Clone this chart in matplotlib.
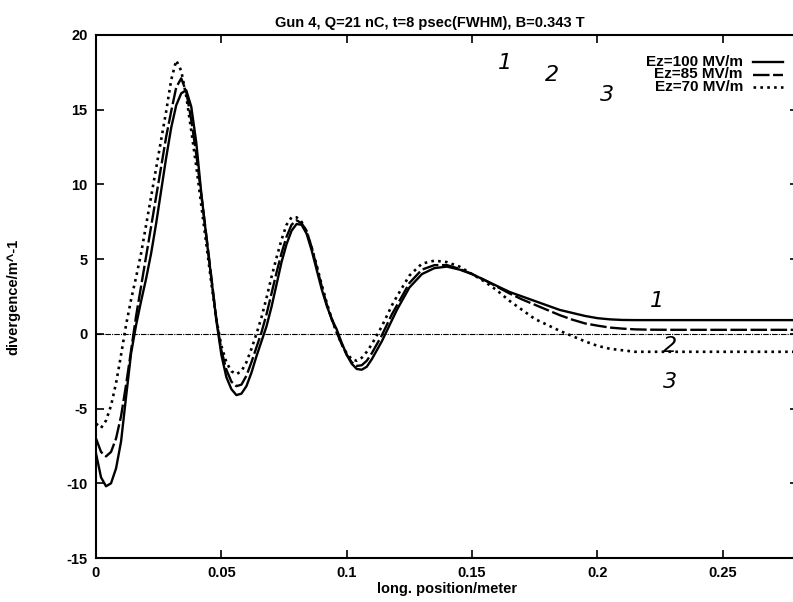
import matplotlib
matplotlib.use("Agg")
import matplotlib.pyplot as plt
from matplotlib.lines import Line2D

plt.rcParams['font.family'] = ['Liberation Sans', 'DejaVu Sans']

# ---- data ----
x_pos = [0, 0.002, 0.004, 0.006, 0.008, 0.010, 0.012, 0.014, 0.016, 0.018,
         0.020, 0.022, 0.024, 0.026, 0.028, 0.030, 0.032, 0.034, 0.036, 0.038,
         0.040, 0.042, 0.044, 0.046, 0.048, 0.050, 0.052, 0.054, 0.056, 0.058,
         0.060, 0.062, 0.064, 0.066, 0.068, 0.070, 0.072, 0.074, 0.076, 0.078,
         0.080, 0.082, 0.084, 0.086, 0.088, 0.090, 0.092, 0.094, 0.096, 0.098,
         0.100, 0.102, 0.104, 0.106, 0.108, 0.110, 0.112, 0.114, 0.116, 0.118,
         0.120, 0.125, 0.130, 0.135, 0.140, 0.145, 0.150, 0.155, 0.160, 0.165,
         0.170, 0.175, 0.180, 0.185, 0.190, 0.195, 0.200, 0.205, 0.210, 0.215,
         0.220, 0.230, 0.240, 0.250, 0.260, 0.270, 0.280]

div_ez100 = [-8.0, -9.6, -10.2, -10.0, -9.0, -7.2, -4.2, -1.3, 0.6, 2.2,
             3.7, 5.4, 7.4, 9.6, 11.8, 13.8, 15.3, 16.1, 16.3, 15.2,
             12.8, 9.4, 6.5, 3.7, 0.9, -1.4, -2.9, -3.7, -4.1, -4.0,
             -3.5, -2.6, -1.5, -0.5, 0.5, 1.8, 3.3, 4.8, 6.0, 6.9,
             7.35, 7.3, 6.7, 5.6, 4.3, 3.0, 1.9, 1.0, 0.3, -0.6,
             -1.4, -2.0, -2.35, -2.4, -2.2, -1.7, -1.1, -0.5, 0.2, 0.9,
             1.6, 3.1, 4.0, 4.4, 4.5, 4.3, 4.0, 3.6, 3.2, 2.8,
             2.5, 2.2, 1.9, 1.6, 1.4, 1.2, 1.05, 0.97, 0.93, 0.92,
             0.92, 0.92, 0.92, 0.92, 0.92, 0.92, 0.92]

div_ez85 = [-7.0, -7.9, -8.2, -7.9, -7.0, -5.5, -3.4, -1.1, 1.2, 3.2,
            5.2, 7.2, 9.2, 11.2, 13.2, 14.9, 16.5, 17.1, 16.2, 14.3,
            12.0, 9.3, 6.6, 3.8, 1.0, -1.1, -2.4, -3.2, -3.5, -3.4,
            -2.8, -1.9, -0.9, 0.1, 1.3, 2.7, 4.1, 5.4, 6.5, 7.3,
            7.6, 7.4, 6.9, 5.8, 4.5, 3.2, 2.0, 1.0, 0.1, -0.7,
            -1.4, -1.9, -2.15, -2.1, -1.8, -1.3, -0.7, -0.1, 0.6, 1.3,
            1.9, 3.4, 4.3, 4.6, 4.6, 4.35, 4.0, 3.6, 3.15, 2.7,
            2.3, 1.95, 1.6, 1.25, 0.95, 0.7, 0.55, 0.42, 0.35, 0.3,
            0.28, 0.27, 0.27, 0.27, 0.27, 0.27, 0.27]

div_ez70 = [-6.0, -6.3, -5.8, -4.8, -3.3, -1.4, 0.6, 2.3, 3.8, 5.4,
            7.3, 9.2, 11.1, 13.0, 14.9, 17.0, 18.3, 17.6, 15.9, 13.6,
            11.2, 8.6, 6.0, 3.4, 1.0, -0.8, -1.9, -2.5, -2.7, -2.5,
            -1.9, -1.0, 0.0, 1.1, 2.4, 3.8, 5.1, 6.3, 7.3, 7.8,
            7.8, 7.5, 6.8, 5.8, 4.6, 3.3, 2.1, 1.0, 0.1, -0.7,
            -1.3, -1.7, -1.8, -1.6, -1.2, -0.7, -0.1, 0.5, 1.2, 1.9,
            2.5, 3.9, 4.7, 4.9, 4.8, 4.5, 4.0, 3.5, 2.9, 2.2,
            1.6, 1.0, 0.6, 0.2, -0.15, -0.5, -0.8, -1.0, -1.1, -1.2,
            -1.2, -1.2, -1.2, -1.2, -1.2, -1.2, -1.2]

labels = ["Ez=100 MV/m", "Ez=85 MV/m", "Ez=70 MV/m"]
x_ticks = [0, 0.05, 0.1, 0.15, 0.2, 0.25]
x_ticklabels = ["0", "0.05", "0.1", "0.15", "0.2", "0.25"]
y_ticks = [-15, -10, -5, 0, 5, 10, 15, 20]
y_ticklabels = ["-15", "-10", "-5", "0", "5", "10", "15", "20"]

# handwritten marks on the scan: (text, x, y)
marks = [("1", 0.163, 18.1), ("2", 0.182, 17.3), ("3", 0.204, 16.0),
         ("1", 0.2237, 2.2), ("2", 0.229, -0.8), ("3", 0.229, -3.2)]

# ---- figure ----
W, H = 793, 602
fig = plt.figure(figsize=(W / 100, H / 100), dpi=100)
left, right, top, bottom = 96, 798, 35, 558
ax = fig.add_axes([left / W, (H - bottom) / H, (right - left) / W, (bottom - top) / H])

ax.axhline(0, color='black', lw=0.8, ls=(0, (5, 1, 1, 1)))

styles = [dict(lw=1.7, ls='-'), dict(lw=1.7, ls=(0, (7, 1.5))), dict(lw=1.9, ls=(0, (1, 1.6)))]
series = [div_ez100, div_ez85, div_ez70]
for ys, st in zip(series, styles):
    ax.plot(x_pos, ys, color='black', **st)

ax.set_xlim(0, 0.28)
ax.set_ylim(-15, 20)
ax.set_xticks(x_ticks)
ax.set_xticklabels(x_ticklabels)
ax.set_yticks(y_ticks)
ax.set_yticklabels(y_ticklabels)
ax.tick_params(direction='in', length=6, width=1.2, top=True, right=True,
               labelsize=10.5, pad=6)
for t in ax.get_xticklabels() + ax.get_yticklabels():
    t.set_fontweight('bold')
for s in ax.spines.values():
    s.set_linewidth(1.5)

ax.set_title("Gun 4, Q=21 nC, t=8 psec(FWHM), B=0.343 T", fontsize=10.5,
             fontweight='bold', pad=6, x=(430 - left) / (right - left))
ax.set_xlabel("long. position/meter", fontsize=10.5, fontweight='bold', labelpad=1)
ax.set_ylabel("divergence/m^-1", fontsize=10.5, fontweight='bold', labelpad=33)

# legend (key text right-aligned, sample line to the right), gnuplot style
def ax_x(px):
    return (px - left) / (right - left)

def ax_y(py):
    return (bottom - py) / (bottom - top)

rows = [62, 74.5, 87]
for lab, st, ry in zip(labels, styles, rows):
    ax.text(ax_x(743), ax_y(ry), lab, transform=ax.transAxes, ha='right', va='center',
            fontsize=11, fontweight='bold')
    ax.add_line(Line2D([ax_x(753), ax_x(783)], [ax_y(ry), ax_y(ry)], transform=ax.transAxes,
                       color='black', **st))

for txt, mx, my in marks:
    ax.text(mx, my, txt, fontsize=16, fontstyle='italic', ha='center', va='center',
            family=['DejaVu Sans'])

fig.savefig("out.png", dpi=100)
